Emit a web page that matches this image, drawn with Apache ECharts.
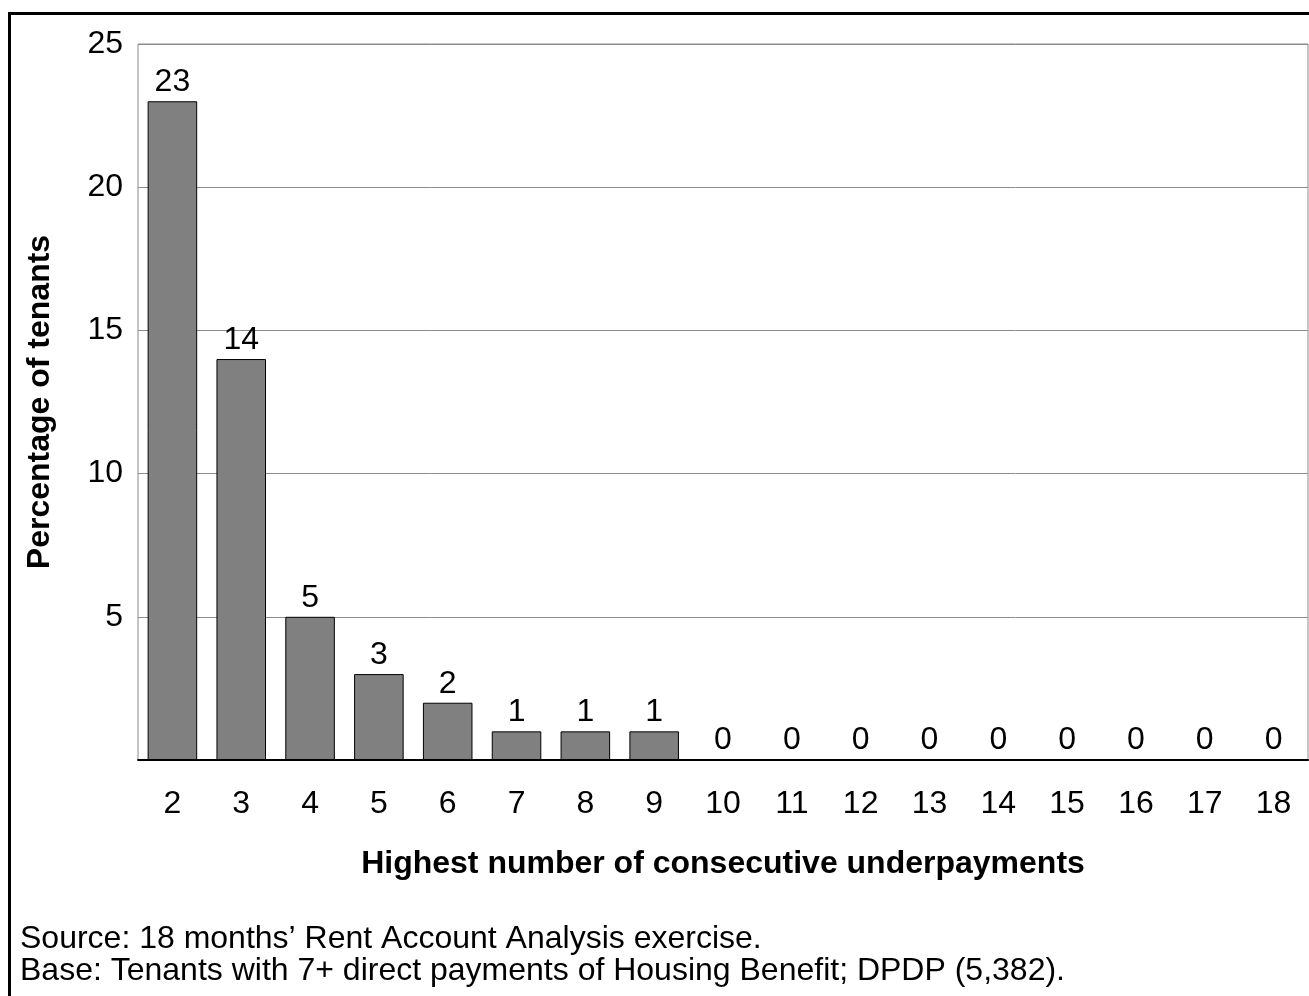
<!DOCTYPE html>
<html>
<head>
<meta charset="utf-8">
<script src="https://cdn.jsdelivr.net/npm/echarts@6/dist/echarts.min.js"></script>
<style>
  html, body { margin: 0; padding: 0; background: #fff; }
  #chart { width: 1309px; height: 996px; }
</style>
</head>
<body>
<div id="chart"></div>
<script>
// categories = highest number of consecutive underpayments
const categories = ['2', '3', '4', '5', '6', '7', '8', '9', '10', '11', '12', '13', '14', '15', '16', '17', '18'];
// percentage of tenants
const values = [23, 14, 5, 3, 2, 1, 1, 1, 0, 0, 0, 0, 0, 0, 0, 0, 0];
const yTicks = [0, 5, 10, 15, 20, 25];
const footLines = [
  'Source: 18 months\u2019 Rent Account Analysis exercise.',
  'Base: Tenants with 7+ direct payments of Housing Benefit; DPDP (5,382).'
];

const FONT = "'Liberation Sans', Arial, sans-serif";
const FS = 32;

let myChart = echarts.init(document.getElementById('chart'));
let option = {
  animation: false,
  backgroundColor: '#fff',
  textStyle: { fontFamily: FONT },
  grid: {
    left: 138, top: 44, right: 1, bottom: 236,
    show: true, borderColor: '#8c8c8c', borderWidth: 1
  },
  xAxis: {
    type: 'category',
    data: categories,
    name: 'Highest number of consecutive underpayments',
    nameLocation: 'middle',
    nameGap: 88,
    nameTextStyle: { fontSize: FS, fontWeight: 'bold', color: '#000', fontFamily: FONT },
    axisLine: { lineStyle: { color: '#000', width: 2 } },
    axisTick: { length: 18, lineStyle: { color: '#000', width: 1 } },
    axisLabel: { fontSize: FS, color: '#000', margin: 28, lineHeight: 32, fontFamily: FONT }
  },
  yAxis: {
    type: 'value',
    min: yTicks[0],
    max: yTicks[yTicks.length - 1],
    interval: 5,
    name: 'Percentage of tenants',
    nameLocation: 'middle',
    nameGap: 82,
    nameTextStyle: { fontSize: FS, fontWeight: 'bold', color: '#000', fontFamily: FONT },
    axisLine: { show: false },
    axisTick: { show: false },
    axisLabel: {
      fontSize: FS, color: '#000', margin: 15, fontFamily: FONT,
      formatter: v => (v === 0 ? '' : String(v))
    },
    splitLine: { lineStyle: { color: '#8c8c8c', width: 1 } }
  },
  series: [{
    type: 'bar',
    data: values,
    barWidth: '72%',
    itemStyle: { color: '#808080', borderColor: '#000', borderWidth: 1 },
    label: {
      show: true, position: 'top', distance: 3,
      fontSize: FS, color: '#000', fontFamily: FONT, lineHeight: 32
    }
  }],
  graphic: [
    {
      type: 'rect',
      shape: { x: 9.5, y: 13.5, width: 1400, height: 1100 },
      style: { fill: 'none', stroke: '#000', lineWidth: 3 },
      silent: true
    },
    {
      type: 'text', left: 20, top: 923,
      style: { text: footLines[0], fill: '#000', font: FS + 'px ' + FONT }
    },
    {
      type: 'text', left: 20, top: 955,
      style: { text: footLines[1], fill: '#000', font: FS + 'px ' + FONT }
    }
  ]
};
myChart.setOption(option);
</script>
</body>
</html>
